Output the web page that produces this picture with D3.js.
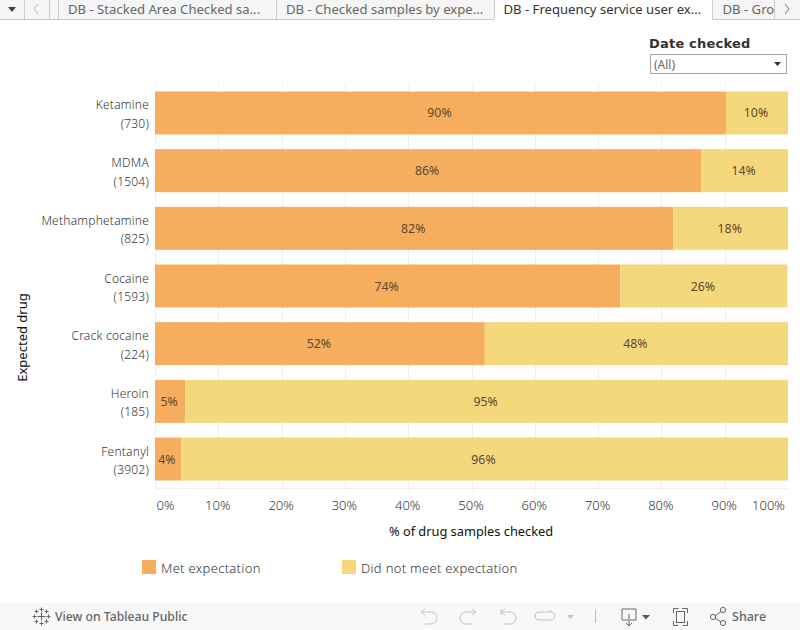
<!DOCTYPE html>
<html><head><meta charset="utf-8">
<script src="https://cdnjs.cloudflare.com/ajax/libs/d3/7.8.5/d3.min.js"></script>
<style>html,body{margin:0;padding:0;background:#fff;overflow:hidden}svg{display:block}text{font-family:"Noto Sans",sans-serif}</style>
</head><body><svg id="c" width="800" height="630"></svg>
<script>
const drugs=["Ketamine","MDMA","Methamphetamine","Cocaine","Crack cocaine","Heroin","Fentanyl"];
const counts=[730,1504,825,1593,224,185,3902];
const met=[90.2,86.3,81.9,73.5,52.1,4.8,4.1];
const notMet=[9.8,13.7,18.1,26.4,47.9,95.2,95.9];
const xTicks=[0,10,20,30,40,50,60,70,80,90,100];
const seriesNames=["Met expectation","Did not meet expectation"];
const colors=["#f6ad5e","#f5d77c"];
const tabs=["DB - Stacked Area Checked sa...","DB - Checked samples by expe...","DB - Frequency service user ex...","DB - Gro"];
const filterTitle="Date checked", filterValue="(All)";

const svg=d3.select("#c");
const x=d3.scaleLinear().domain([0,100]).range([155,788]);
const y=d3.scaleBand().domain(drugs).range([84,488]).paddingInner(0.255).paddingOuter(0.13);

// tab bar
const tb=svg.append("g");
tb.append("rect").attr("width",800).attr("height",19).attr("fill","#f5f5f5");
tb.append("rect").attr("y",19).attr("width",800).attr("height",1).attr("fill","#cbcbcb");
const tabX=[[58,276],[276,494],[494,712.5],[712.5,775]];
tabs.forEach((t,i)=>{
  const a=i===2;
  if(a)tb.append("rect").attr("x",tabX[i][0]).attr("y",0).attr("width",tabX[i][1]-tabX[i][0]).attr("height",20).attr("fill","#fff");
  tb.append("text").attr("x",tabX[i][0]+10-(a?0.5:0)).attr("y",14).attr("font-size",13.1).attr("fill",a?"#333":"#666").text(t);
});
[24.5,49.5,58.5,276.5,494.5,712.5,774.5].forEach(p=>tb.append("line").attr("x1",p).attr("x2",p).attr("y1",0).attr("y2",19).attr("stroke","#cbcbcb"));
tb.append("path").attr("d","M8 7h8l-4 5z").attr("fill","#444");
tb.append("path").attr("d","M38 4l-4 5 4 5").attr("fill","none").attr("stroke","#bbb");
tb.append("path").attr("d","M785 4l4 5-4 5").attr("fill","none").attr("stroke","#777");

// filter
svg.append("text").attr("x",649).attr("y",48).attr("font-size",13).attr("font-weight",700).attr("letter-spacing",0.2).attr("fill","#333").style("font-family","DejaVu Sans").text(filterTitle);
svg.append("rect").attr("x",650.5).attr("y",54.5).attr("width",136).attr("height",19).attr("fill","#fff").attr("stroke","#a6a6a6");
svg.append("text").attr("x",654).attr("y",69).attr("font-size",12).attr("font-weight",400).attr("fill","#666").text(filterValue);
svg.append("path").attr("d","M774 62h7l-3.5 4z").attr("fill","#333");

// grid
svg.append("g").selectAll("line").data(xTicks.slice(0,10)).join("line")
 .attr("x1",d=>Math.round(x(d))+.5).attr("x2",d=>Math.round(x(d))+.5).attr("y1",84).attr("y2",492).attr("stroke","#f0f0f0");
svg.append("line").attr("x1",155).attr("x2",788).attr("y1",488.5).attr("y2",488.5).attr("stroke","#f0f0f0");

// bars
const g=svg.append("g");
drugs.forEach((d,i)=>{
  [[0,met[i]],[met[i],met[i]+notMet[i]]].forEach((s,k)=>{
    g.append("rect").attr("x",x(s[0])).attr("y",y(d)).attr("width",x(s[1])-x(s[0])).attr("height",y.bandwidth()).attr("fill",colors[k]);
    g.append("text").attr("x",(x(s[0])+x(s[1]))/2-1).attr("y",y(d)+y.bandwidth()/2+4.5).attr("text-anchor","middle").attr("font-size",12.3).attr("fill","#5a4a30").text(d3.format(".0f")(s[1]-s[0])+"%");
  });
  const cy=y(d)+y.bandwidth()/2;
  svg.append("text").attr("x",149).attr("y",cy-3.5).attr("text-anchor","end").attr("font-size",12).attr("font-weight",300).attr("letter-spacing",0.22).attr("fill","#333").text(d);
  svg.append("text").attr("x",149).attr("y",cy+15).attr("text-anchor","end").attr("font-size",12).attr("font-weight",300).attr("letter-spacing",0.22).attr("fill","#333").text("("+counts[i]+")");
});

// axis labels
const axisLabelX=d=>d===0?166:d===100?769:x(d);
svg.append("g").selectAll("text").data(xTicks).join("text").attr("x",d=>axisLabelX(d)-0.5).attr("y",510).attr("text-anchor","middle").attr("font-size",13).attr("font-weight",300).attr("fill","#333").text(d=>d+"%");
svg.append("text").attr("x",471).attr("y",536).attr("text-anchor","middle").attr("font-size",12.8).attr("fill","#111").text("% of drug samples checked");
svg.append("text").attr("transform","translate(27,337.5) rotate(-90)").attr("text-anchor","middle").attr("font-size",13).attr("fill","#111").text("Expected drug");

// legend
[[142,161],[342,361]].forEach((p,i)=>{
  svg.append("rect").attr("x",p[0]).attr("y",560).attr("width",14).attr("height",14).attr("fill",colors[i]);
  svg.append("text").attr("x",p[1]).attr("y",573).attr("font-size",13).attr("font-weight",300).attr("letter-spacing",0.3).attr("fill","#333").text(seriesNames[i]);
});

// footer
const f=svg.append("g");
f.append("rect").attr("y",603).attr("width",800).attr("height",27).attr("fill","#f8f8f8");
f.append("text").attr("x",55).attr("y",621).attr("font-size",12.2).attr("font-weight",500).attr("fill","#666").text("View on Tableau Public");
const crosses=[[41.5,616.5,4],[41.5,609.5,2],[41.5,623.5,2],[34.5,616.5,2],[48.5,616.5,2],[36.5,611.5,2],[46.5,611.5,2],[36.5,621.5,2],[46.5,621.5,2]];
f.append("g").attr("stroke","#666").selectAll("path").data(crosses).join("path").attr("d",c=>`M${c[0]-c[2]} ${c[1]}h${2*c[2]}M${c[0]} ${c[1]-c[2]}v${2*c[2]}`);
const ic=f.append("g").attr("fill","none").attr("stroke","#c4c4c4").attr("stroke-width",1);
ic.append("path").attr("d","M421 612h10a5 5 0 0 1 0 12h-6M421 612l4 -3M421 612l4 3");
ic.append("path").attr("d","M476 612h-10a5 5 0 0 0 0 12h6M476 612l-4 -3M476 612l-4 3");
ic.append("path").attr("d","M501 609v6M501 612h9a5 5 0 0 1 0 12h-6M501 612l4 -3M501 612l4 3");
ic.append("path").attr("d","M552 612h-13a3.5 3.5 0 0 0 0 8h10a3.5 3.5 0 0 0 3 -8M552 612l-3 -2");
f.append("path").attr("d","M567 615h7l-3.5 4z").attr("fill","#c4c4c4");
f.append("line").attr("x1",595.5).attr("x2",595.5).attr("y1",610).attr("y2",623).attr("stroke","#bbb");
const ic2=f.append("g").attr("fill","none").attr("stroke","#666");
ic2.append("path").attr("d","M628 620h-6v-11h14v11h-6M629 614v12M626 623l3 3 3-3");
f.append("path").attr("d","M642 615h8l-4 4.5z").attr("fill","#555");
ic2.append("path").attr("d","M673.5 613v-4.5h5M682 608.5h5.5v4.5M687.5 621v4.5h-5M678 625.5h-4.5v-4.5");
ic2.append("rect").attr("x",676.5).attr("y",611.5).attr("width",8).attr("height",11);
ic2.append("path").attr("d","M715 616l6-4.5M715 618l6 4");
ic2.selectAll("circle").data([[713,617],[723,610],[723,623]]).join("circle").attr("cx",d=>d[0]).attr("cy",d=>d[1]).attr("r",2.6);
f.append("text").attr("x",732).attr("y",621).attr("font-size",12.5).attr("font-weight",500).attr("fill","#666").text("Share");
</script></body></html>
